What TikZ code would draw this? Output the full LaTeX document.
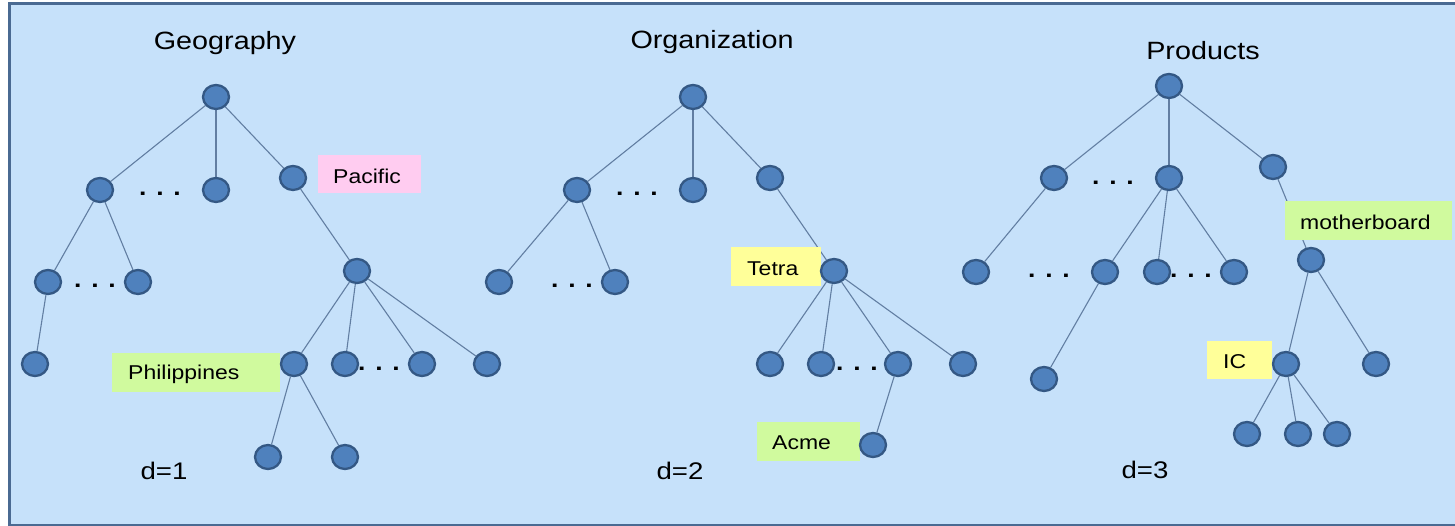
\documentclass[tikz,border=0pt]{standalone}
\usepackage{graphicx}
\usepackage{fontspec}
\setmainfont{Liberation Sans}
\usetikzlibrary{shapes.geometric}
\definecolor{bgc}{RGB}{198,225,250}
\definecolor{framec}{RGB}{74,106,146}
\definecolor{nodefill}{RGB}{79,129,189}
\definecolor{nodeline}{RGB}{52,88,132}
\definecolor{edgec}{RGB}{98,126,162}
\definecolor{pinkc}{RGB}{255,204,240}
\definecolor{greenc}{RGB}{208,250,158}
\definecolor{yellowc}{RGB}{255,255,153}
\pgfdeclarelayer{bglayer}
\pgfdeclarelayer{edgelayer}
\pgfdeclarelayer{boxlayer}
\pgfsetlayers{bglayer,edgelayer,boxlayer,main}
\newcommand{\wide}[1]{\scalebox{1.15}[1]{#1}}
\begin{document}
\begin{tikzpicture}[x=1pt,y=-1pt,
  tn/.style={ellipse, draw=nodeline, fill=nodefill, line width=2.3pt,
             minimum width=26pt, minimum height=24pt, inner sep=0pt},
  edge/.style={draw=edgec, line width=1.1pt},
  title/.style={anchor=base, inner sep=0pt, font=\fontsize{25}{30}\selectfont},
  dlabel/.style={anchor=base, inner sep=0pt, font=\fontsize{24}{28}\selectfont},
  dotsnode/.style={anchor=base, inner sep=0pt, font=\fontsize{23}{28}\selectfont\bfseries},
  lblbox/.style={rectangle, draw=none, anchor=north west, inner sep=0pt},
  lbltext/.style={anchor=base west, inner sep=0pt, font=\fontsize{20}{24}\selectfont}]
\useasboundingbox (0,0) rectangle (1455,526);
\begin{pgfonlayer}{bglayer}
\fill[white] (0,0) rectangle (1455,526);
\draw[framec, fill=bgc, line width=3pt] (9.5,3.5) rectangle (1470,525);
\end{pgfonlayer}

% titles
\node[title] (tgeo) at (225,50) {\wide{Geography}};
\node[title] (torg) at (712,49) {\wide{Organization}};
\node[title] (tprod) at (1203,60) {\wide{Products}};
\node[dlabel] (d1) at (164,479) {\wide{d=1}};
\node[dlabel] (d2) at (680,479) {\wide{d=2}};
\node[dlabel] (d3) at (1145,478) {\wide{d=3}};

% dots
\node[dotsnode] (gd1) at (160,196) {\wide{. . .}};
\node[dotsnode] (gd2) at (95,288) {\wide{. . .}};
\node[dotsnode] (gd3) at (379,370) {\wide{. . .}};
\node[dotsnode] (od1) at (637,196) {\wide{. . .}};
\node[dotsnode] (od2) at (572,288) {\wide{. . .}};
\node[dotsnode] (od3) at (857,370) {\wide{. . .}};
\node[dotsnode] (pd1) at (1113,185) {\wide{. . .}};
\node[dotsnode] (pd2) at (1049,278) {\wide{. . .}};
\node[dotsnode] (pd3) at (1191,278) {\wide{. . .}};

% Geography tree
\node[tn] (g0) at (216,97) {};
\node[tn] (g1) at (100,190) {};
\node[tn] (g2) at (216,190) {};
\node[tn] (g3) at (293,178) {};
\node[tn] (g4) at (357,271) {};
\node[tn] (g11) at (48,282) {};
\node[tn] (g12) at (138,282) {};
\node[tn] (g111) at (35,364) {};
\node[tn] (g5) at (294,364) {};
\node[tn] (g6) at (345,364) {};
\node[tn] (g7) at (422,364) {};
\node[tn] (g8) at (487,364) {};
\node[tn] (g51) at (268,457) {};
\node[tn] (g52) at (345,457) {};

% Organization tree
\node[tn] (o0) at (693,97) {};
\node[tn] (o1) at (577,190) {};
\node[tn] (o2) at (693,190) {};
\node[tn] (o3) at (770,178) {};
\node[tn] (o4) at (834,271) {};
\node[tn] (o11) at (499,282) {};
\node[tn] (o12) at (615,282) {};
\node[tn] (o5) at (770,364) {};
\node[tn] (o6) at (821,364) {};
\node[tn] (o7) at (898,364) {};
\node[tn] (o8) at (963,364) {};
\node[tn] (o71) at (873,445) {};

% Products tree
\node[tn] (p0) at (1169,86) {};
\node[tn] (p1) at (1054,178) {};
\node[tn] (p2) at (1169,178) {};
\node[tn] (p3) at (1273,167) {};
\node[tn] (p4) at (1311,260) {};
\node[tn] (p11) at (976,272) {};
\node[tn] (p21) at (1105,272) {};
\node[tn] (p22) at (1157,272) {};
\node[tn] (p23) at (1234,272) {};
\node[tn] (p211) at (1044,379) {};
\node[tn] (p5) at (1286,364) {};
\node[tn] (p6) at (1376,364) {};
\node[tn] (p51) at (1247,434) {};
\node[tn] (p52) at (1298,434) {};
\node[tn] (p53) at (1337,434) {};

% label boxes
\begin{pgfonlayer}{boxlayer}
\node[lblbox, fill=pinkc, minimum width=103pt, minimum height=38pt] (pac) at (318,155) {};
\node[lblbox, fill=greenc, minimum width=168pt, minimum height=39pt] (phi) at (112,353) {};
\node[lblbox, fill=yellowc, minimum width=90pt, minimum height=39pt] (tet) at (731,247) {};
\node[lblbox, fill=greenc, minimum width=103pt, minimum height=39pt] (acm) at (757,422) {};
\node[lblbox, fill=greenc, minimum width=167pt, minimum height=39pt] (mob) at (1285,201) {};
\node[lblbox, fill=yellowc, minimum width=65pt, minimum height=38pt] (ic) at (1207,341) {};
\node[lbltext] (pact) at ([xshift=15pt,yshift=10pt]pac.south west) {\wide{Pacific}};
\node[lbltext] (phit) at ([xshift=16pt,yshift=13pt]phi.south west) {\wide{Philippines}};
\node[lbltext] (tett) at ([xshift=16pt,yshift=11pt]tet.south west) {\wide{Tetra}};
\node[lbltext] (acmt) at ([xshift=15pt,yshift=12pt]acm.south west) {\wide{Acme}};
\node[lbltext] (mobt) at ([xshift=15pt,yshift=11pt]mob.south west) {\wide{motherboard}};
\node[lbltext] (ict) at ([xshift=16pt,yshift=11pt]ic.south west) {\wide{IC}};
\end{pgfonlayer}

% edges
\begin{pgfonlayer}{edgelayer}
\draw[edge] (g0) -- (g1);
\draw[edge] (g0) -- (g2);
\draw[edge] (g0) -- (g3);
\draw[edge] (g3) -- (g4);
\draw[edge] (g1) -- (g11);
\draw[edge] (g1) -- (g12);
\draw[edge] (g11) -- (g111);
\draw[edge] (g4) -- (g5);
\draw[edge] (g4) -- (g6);
\draw[edge] (g4) -- (g7);
\draw[edge] (g4) -- (g8);
\draw[edge] (g5) -- (g51);
\draw[edge] (g5) -- (g52);

\draw[edge] (o0) -- (o1);
\draw[edge] (o0) -- (o2);
\draw[edge] (o0) -- (o3);
\draw[edge] (o3) -- (o4);
\draw[edge] (o1) -- (o11);
\draw[edge] (o1) -- (o12);
\draw[edge] (o4) -- (o5);
\draw[edge] (o4) -- (o6);
\draw[edge] (o4) -- (o7);
\draw[edge] (o4) -- (o8);
\draw[edge] (o7) -- (o71);

\draw[edge] (p0) -- (p1);
\draw[edge] (p0) -- (p2);
\draw[edge] (p0) -- (p3);
\draw[edge] (p3) -- (p4);
\draw[edge] (p1) -- (p11);
\draw[edge] (p2) -- (p21);
\draw[edge] (p2) -- (p22);
\draw[edge] (p2) -- (p23);
\draw[edge] (p21) -- (p211);
\draw[edge] (p4) -- (p5);
\draw[edge] (p4) -- (p6);
\draw[edge] (p5) -- (p51);
\draw[edge] (p5) -- (p52);
\draw[edge] (p5) -- (p53);
\end{pgfonlayer}
\end{tikzpicture}
\end{document}
